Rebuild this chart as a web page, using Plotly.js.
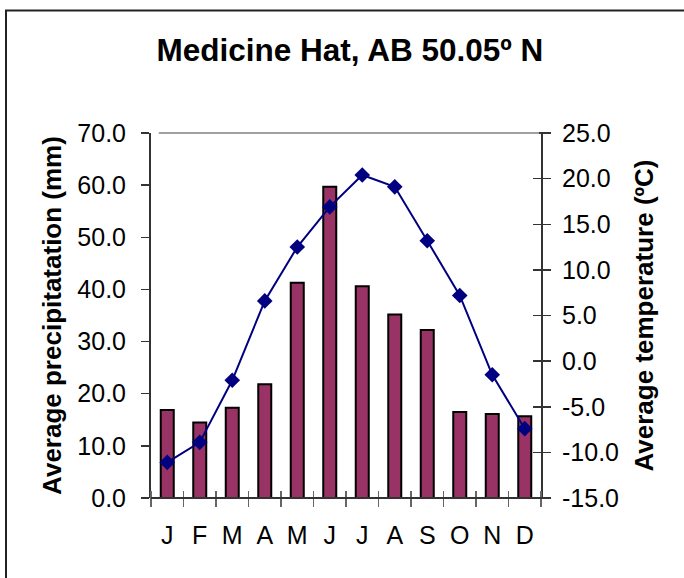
<!DOCTYPE html>
<html>
<head>
<meta charset="utf-8">
<script src="https://cdn.plot.ly/plotly-3.0.1.min.js"></script>
<style>
  html, body { margin: 0; padding: 0; background: #fff; }
  #chart { width: 684px; height: 578px; }
</style>
</head>
<body>
<div id="chart"></div>
<script>
const months = ["J", "F", "M", "A", "M ", "J ", "J  ", "A ", "S", "O", "N", "D"];
const monthLabels = ["J", "F", "M", "A", "M", "J", "J", "A", "S", "O", "N", "D"];
const precipitation = [16.9, 14.5, 17.3, 21.8, 41.3, 59.7, 40.6, 35.2, 32.2, 16.5, 16.1, 15.7];
const temperature = [-11.1, -8.9, -2.1, 6.6, 12.5, 16.9, 20.4, 19.1, 13.2, 7.2, -1.5, -7.4];
const precipTicks = [0, 10, 20, 30, 40, 50, 60, 70];
const precipTickText = ["0.0", "10.0", "20.0", "30.0", "40.0", "50.0", "60.0", "70.0"];
const tempTicks = [-15, -10, -5, 0, 5, 10, 15, 20, 25];
const tempTickText = ["-15.0", "-10.0", "-5.0", "0.0", "5.0", "10.0", "15.0", "20.0", "25.0"];

const FONT = "Liberation Sans, Arial, sans-serif";

// plot-area geometry (pixels)
const W = 684, H = 578, ML = 151, MR = 143, MT = 133, MB = 80;
const PW = W - ML - MR, PH = H - MT - MB;
const XTICK_HALF = 8;   // x ticks cross the axis: 8 px each side
const YTICK_HALF = 9;   // right ticks cross the axis: 9 px each side

const bars = {
  type: "bar",
  x: months,
  y: precipitation,
  xaxis: "x",
  yaxis: "y",
  marker: { color: "#993366", line: { color: "#000000", width: 2 } },
  hoverinfo: "y"
};

const line = {
  type: "scatter",
  mode: "lines+markers",
  x: months,
  y: temperature,
  xaxis: "x",
  yaxis: "y2",
  line: { color: "#000080", width: 2 },
  marker: { symbol: "diamond", size: 12, color: "#000080" },
  hoverinfo: "y"
};

const layout = {
  width: W,
  height: H,
  margin: { l: ML, r: MR, t: MT, b: MB },
  paper_bgcolor: "#ffffff",
  plot_bgcolor: "#ffffff",
  showlegend: false,
  bargap: 0.6,
  font: { family: FONT, color: "#000000" },
  title: {
    text: "<b>Medicine Hat, AB 50.05º N</b>",
    font: { family: FONT, size: 31.5, color: "#000000" },
    xref: "paper", x: 0.51, xanchor: "center",
    yref: "container", y: 0.913, yanchor: "middle"
  },
  xaxis: {
    type: "category",
    categoryorder: "array",
    categoryarray: months,
    tickmode: "array",
    tickvals: months,
    ticktext: monthLabels,
    range: [-0.5, months.length - 0.5],
    tickson: "boundaries",
    anchor: "free",
    position: XTICK_HALF / PH,
    ticks: "outside",
    ticklen: 2 * XTICK_HALF,
    tickwidth: 1.5,
    tickcolor: "#666666",
    showline: false,
    showgrid: false,
    zeroline: false,
    tickfont: { family: FONT, size: 25, color: "#000000" },
    ticklabelstandoff: 28,
    fixedrange: true
  },
  yaxis: {
    range: [0, 70],
    tickmode: "array",
    tickvals: precipTicks,
    ticktext: precipTickText,
    ticks: "outside",
    ticklen: 8,
    tickwidth: 1.5,
    tickcolor: "#333333",
    showline: true,
    mirror: true,
    linecolor: "#333333",
    linewidth: 2,
    showgrid: false,
    zeroline: false,
    tickfont: { family: FONT, size: 25, color: "#000000" },
    ticklabelstandoff: 10,
    title: {
      text: "<b>Average precipitatation (mm)</b>",
      font: { family: FONT, size: 26, color: "#000000" },
      standoff: 8
    },
    fixedrange: true
  },
  yaxis2: {
    overlaying: "y",
    anchor: "free",
    position: 1 - YTICK_HALF / PW,
    side: "right",
    range: [-15, 25],
    tickmode: "array",
    tickvals: tempTicks,
    ticktext: tempTickText,
    ticks: "outside",
    ticklen: 2 * YTICK_HALF,
    tickwidth: 1.5,
    tickcolor: "#333333",
    showline: false,
    showgrid: false,
    zeroline: false,
    tickfont: { family: FONT, size: 25, color: "#000000" },
    ticklabelstandoff: 6,
    title: {
      text: "<b>Average temperature (ºC)</b>",
      font: { family: FONT, size: 26, color: "#000000" },
      standoff: 16
    },
    fixedrange: true
  },
  shapes: [
    // category axis baseline
    { type: "line", xref: "paper", yref: "paper", x0: 0, x1: 1, y0: 0, y1: 0,
      line: { color: "#333333", width: 2 } },
    // light top edge of plot area
    { type: "line", xref: "paper", yref: "paper", x0: 0.02, x1: 0.995, y0: 1, y1: 1,
      line: { color: "#a0a0a0", width: 2 } },
    // chart frame
    { type: "rect", xref: "paper", yref: "paper",
      x0: (6 - ML) / PW, x1: 1.6, y0: -0.4, y1: 1 + (MT - 10.5) / PH,
      line: { color: "#222222", width: 2 }, fillcolor: "rgba(0,0,0,0)" }
  ]
};

Plotly.newPlot("chart", [bars, line], layout, { displayModeBar: false, staticPlot: true });
</script>
</body>
</html>
